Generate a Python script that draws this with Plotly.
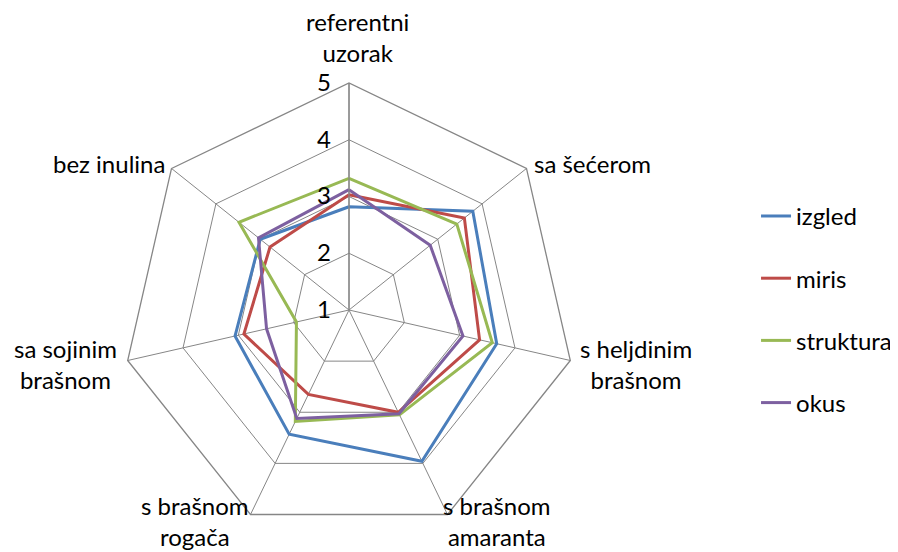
import math
import plotly.graph_objects as go

categories = ["referentni<br>uzorak", "sa šećerom", "s heljdinim<br>brašnom",
              "s brašnom<br>amaranta", "s brašnom<br>rogača", "sa sojinim<br>brašnom",
              "bez inulina"]
izgled = [2.82, 3.79, 3.67, 3.96, 3.43, 3.06, 3.00]
miris = [3.03, 3.60, 3.36, 3.00, 2.65, 2.90, 2.78]
struktura = [3.32, 3.43, 3.59, 3.05, 3.18, 1.95, 3.48]
okus = [3.12, 2.83, 3.06, 3.03, 3.12, 2.49, 3.04]
radial_ticks = [1, 2, 3, 4, 5]

# placement of the category labels next to the outer ring (layout only)
label_style = [
    dict(xanchor="center", yanchor="bottom", xshift=0, yshift=22),
    dict(xanchor="left", yanchor="middle", xshift=-2, yshift=13),
    dict(xanchor="left", yanchor="middle", xshift=0, yshift=5),
    dict(xanchor="left", yanchor="middle", xshift=-14, yshift=2),
    dict(xanchor="right", yanchor="middle", xshift=-8, yshift=2),
    dict(xanchor="right", yanchor="middle", xshift=-17, yshift=5),
    dict(xanchor="right", yanchor="middle", xshift=-13, yshift=13),
]

series = [("izgled", izgled, "#4A7EBB"), ("miris", miris, "#BE4B48"),
          ("struktura", struktura, "#98B954"), ("okus", okus, "#7D60A0")]

FONT = "Lato"
FS = 24
fig = go.Figure()
for name, vals, col in series:
    fig.add_trace(go.Scatterpolar(
        r=vals + vals[:1], theta=categories + categories[:1], name=name,
        mode="lines", line=dict(color=col, width=3), legendgroup=name))

W, H = 898, 552
cx, cy, R = 349, 310, 227          # drawn centre / outer radius of the web, px
dom_off = 8                        # plotly draws the polar 8px right/down of domain centre
dx0, dy0 = cx - dom_off, cy - dom_off

# category labels as annotations at the outer-ring vertices
n = len(categories)
for i, (lab, st) in enumerate(zip(categories, label_style)):
    ang = math.radians(90 - i * 360 / n)
    px = cx + R * math.cos(ang)
    py = cy - R * math.sin(ang)
    fig.add_annotation(x=px / W, y=1 - py / H, xref="paper", yref="paper",
                       text=lab, showarrow=False, align="center",
                       font=dict(family=FONT, size=FS, color="black"), **st)

fig.update_layout(
    width=W, height=H, margin=dict(l=0, r=0, t=0, b=0),
    paper_bgcolor="white", plot_bgcolor="white",
    font=dict(family=FONT, size=FS, color="black"),
    polar=dict(
        domain=dict(x=[(dx0 - R) / W, (dx0 + R) / W], y=[(H - dy0 - R) / H, (H - dy0 + R) / H]),
        bgcolor="white", gridshape="linear",
        angularaxis=dict(rotation=90, direction="clockwise", showline=True,
                         linecolor="#868686", linewidth=1.3, gridcolor="#868686",
                         gridwidth=1.3, ticks="", showticklabels=False),
        radialaxis=dict(range=[1, 5], tickvals=radial_ticks, angle=90, tickangle=90,
                        showline=True, linecolor="#868686", linewidth=1.3,
                        gridcolor="#868686", gridwidth=1.3, ticks="outside",
                        ticklen=9, tickcolor="rgba(0,0,0,0)",
                        side="counterclockwise", tickfont=dict(size=FS, family=FONT)),
    ),
    legend=dict(x=0.833, y=0.454, xanchor="left", yanchor="middle",
                font=dict(size=FS, family=FONT), tracegroupgap=28,
                bgcolor="rgba(0,0,0,0)"),
)
fig.write_html("out.html")
